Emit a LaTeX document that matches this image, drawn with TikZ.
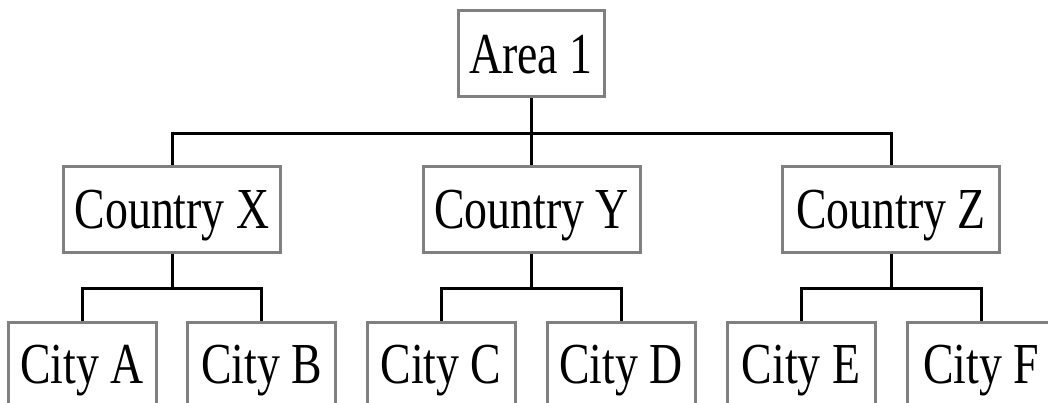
\documentclass[tikz,border=0pt]{standalone}
\usepackage{fontspec}
\setmainfont[FakeStretch=0.79]{Liberation Serif}
\newcommand*{\DropLen}{35}
\newcommand*{\BigFont}{\fontsize{58}{60}\selectfont}
\tikzset{
    orgbox/.style={draw=gray, line width=3pt, fill=white, inner sep=0pt,
        text height=39pt, text depth=0pt, font=\BigFont},
    areabox/.style={orgbox, minimum width=146pt, minimum height=86pt},
    countrybox/.style={orgbox, minimum width=217pt, minimum height=85pt},
    citybox/.style={orgbox, minimum width=148pt, minimum height=84pt},
    link/.style={line width=3pt, black}
}

\begin{document}
\begin{tikzpicture}[x=1pt, y=-1pt]
    \clip (0,0) rectangle (1048,403);
    % top of the tree
    \node[areabox] (area) at (531,54) {Area 1};

    % countries
    \foreach \Name/\X/\Lbl in {cx/172/X, cy/531.5/Y, cz/891/Z} {
        \node[countrybox] (\Name) at (\X,209.5) {Country \Lbl};
        \draw[link] (area.south) -- ++(0,\DropLen) -| (\Name.north);
    }

    % cities
    \foreach \Name/\X/\Lbl/\Up in {ca/82/A/cx, cb/261.5/B/cx, cc/441/C/cy,
                                   cd/621/D/cy, ce/801/E/cz, cf/981/F/cz} {
        \node[citybox] (\Name) at (\X,364) {City \Lbl};
        \draw[link] (\Up.south) -- ++(0,\DropLen) -| (\Name.north);
    }
\end{tikzpicture}
\end{document}
